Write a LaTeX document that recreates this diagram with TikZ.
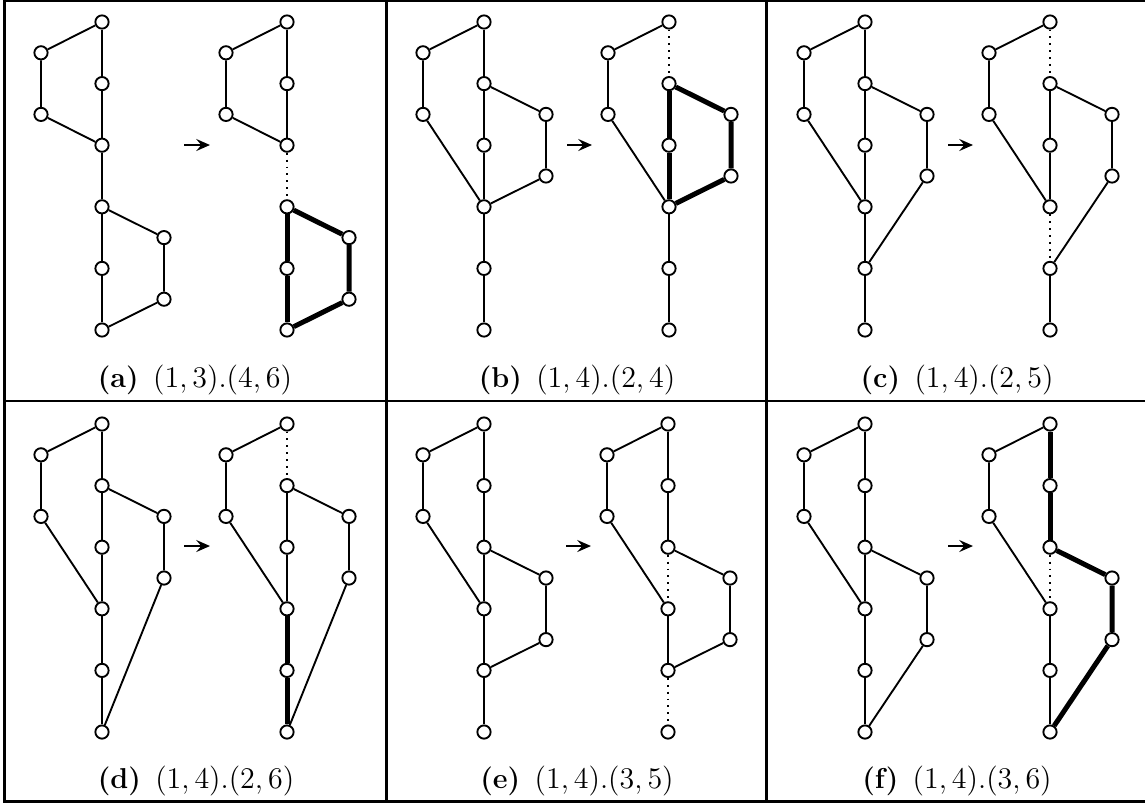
\documentclass[tikz,border=0pt]{standalone}
\usepackage{tikz}
\usepackage{amsmath}
\usetikzlibrary{arrows.meta}

\newcommand{\eargraph}[4]{%
  \node[vtx] (#1s0) at (#2,#3) {};
  \node[vtx] (#1s1) at (#2,{#3+61.6}) {};
  \node[vtx] (#1s2) at (#2,{#3+123.2}) {};
  \node[vtx] (#1s3) at (#2,{#3+184.8}) {};
  \node[vtx] (#1s4) at (#2,{#3+246.4}) {};
  \node[vtx] (#1s5) at (#2,{#3+308}) {};
  \node[vtx] (#1l1) at ({#2-61},{#3+30.8}) {};
  \node[vtx] (#1l2) at ({#2-61},{#3+92.4}) {};
  \node[vtx] (#1r1) at ({#2+62},{#3+61.6*#4+30.8}) {};
  \node[vtx] (#1r2) at ({#2+62},{#3+61.6*#4+92.4}) {};
}

\begin{document}
\begin{tikzpicture}[x=0.4pt, y=-0.4pt,
    vtx/.style={circle, draw, fill=white, inner sep=0pt, minimum size=5.3pt, line width=0.75pt},
    link/.style={line width=0.75pt},
    hotlink/.style={line width=2pt},
    droplink/.style={dotted, line width=0.75pt},
    goes/.style={line width=0.75pt, -{Stealth[length=5.5pt, width=4.8pt, inset=2pt]}},
    caption/.style={anchor=base, font=\fontsize{11.5}{13.5}\selectfont},
    rule/.style={line width=1.2pt}]

\useasboundingbox (0,0) rectangle (1145,803);

\draw[rule] (4,0) -- (1145,0);
\draw[rule] (4,0) -- (4,803);
\draw[line width=0.9pt] (4,401) -- (1145,401);
\draw[rule] (4,801.5) -- (1145,801.5);
\draw[rule] (386,0) -- (386,803);
\draw[rule] (766,0) -- (766,803);

% (a)
\eargraph{a1}{102}{22}{3}
\eargraph{a2}{287}{22}{3}
\draw[link] (a1s0) -- (a1s1) -- (a1s2) -- (a1s3) -- (a1s4) -- (a1s5);
\draw[link] (a1s0) -- (a1l1) -- (a1l2) -- (a1s2);
\draw[link] (a1s3) -- (a1r1) -- (a1r2) -- (a1s5);
\draw[link] (a2s0) -- (a2s1) -- (a2s2);
\draw[link] (a2s0) -- (a2l1) -- (a2l2) -- (a2s2);
\draw[droplink] (a2s2) -- (a2s3);
\draw[hotlink] (a2s3) -- (a2s4) -- (a2s5);
\draw[hotlink] (a2s3) -- (a2r1) -- (a2r2) -- (a2s5);
\coordinate (atail) at (184,145);
\coordinate (ahead) at (210,145);
\draw[goes] (atail) -- (ahead);
\node[caption] (acap) at (195,387) {\textbf{(a)}\enspace$(1,3).(4,6)$};

% (b)
\eargraph{b1}{484}{22}{1}
\eargraph{b2}{669}{22}{1}
\draw[link] (b1s0) -- (b1s1) -- (b1s2) -- (b1s3) -- (b1s4) -- (b1s5);
\draw[link] (b1s0) -- (b1l1) -- (b1l2) -- (b1s3);
\draw[link] (b1s1) -- (b1r1) -- (b1r2) -- (b1s3);
\draw[link] (b2s0) -- (b2l1) -- (b2l2) -- (b2s3);
\draw[link] (b2s3) -- (b2s4) -- (b2s5);
\draw[droplink] (b2s0) -- (b2s1);
\draw[hotlink] (b2s1) -- (b2s2) -- (b2s3);
\draw[hotlink] (b2s1) -- (b2r1) -- (b2r2) -- (b2s3);
\coordinate (btail) at (567,145);
\coordinate (bhead) at (592,145);
\draw[goes] (btail) -- (bhead);
\node[caption] (bcap) at (577,387) {\textbf{(b)}\enspace$(1,4).(2,4)$};

% (c)
\eargraph{c1}{865}{22}{1}
\eargraph{c2}{1050}{22}{1}
\draw[link] (c1s0) -- (c1s1) -- (c1s2) -- (c1s3) -- (c1s4) -- (c1s5);
\draw[link] (c1s0) -- (c1l1) -- (c1l2) -- (c1s3);
\draw[link] (c1s1) -- (c1r1) -- (c1r2) -- (c1s4);
\draw[link] (c2s1) -- (c2s2) -- (c2s3);
\draw[link] (c2s0) -- (c2l1) -- (c2l2) -- (c2s3);
\draw[link] (c2s1) -- (c2r1) -- (c2r2) -- (c2s4);
\draw[link] (c2s4) -- (c2s5);
\draw[droplink] (c2s0) -- (c2s1);
\draw[droplink] (c2s3) -- (c2s4);
\coordinate (ctail) at (948,145);
\coordinate (chead) at (973,145);
\draw[goes] (ctail) -- (chead);
\node[caption] (ccap) at (957,387) {\textbf{(c)}\enspace$(1,4).(2,5)$};

% (d)
\eargraph{d1}{102}{424}{1}
\eargraph{d2}{287}{424}{1}
\draw[link] (d1s0) -- (d1s1) -- (d1s2) -- (d1s3) -- (d1s4) -- (d1s5);
\draw[link] (d1s0) -- (d1l1) -- (d1l2) -- (d1s3);
\draw[link] (d1s1) -- (d1r1) -- (d1r2) -- (d1s5);
\draw[link] (d2s1) -- (d2s2) -- (d2s3);
\draw[link] (d2s0) -- (d2l1) -- (d2l2) -- (d2s3);
\draw[link] (d2s1) -- (d2r1) -- (d2r2) -- (d2s5);
\draw[droplink] (d2s0) -- (d2s1);
\draw[hotlink] (d2s3) -- (d2s4) -- (d2s5);
\coordinate (dtail) at (184,546);
\coordinate (dhead) at (210,546);
\draw[goes] (dtail) -- (dhead);
\node[caption] (dcap) at (196,788) {\textbf{(d)}\enspace$(1,4).(2,6)$};

% (e)
\eargraph{e1}{484}{424}{2}
\eargraph{e2}{668}{424}{2}
\draw[link] (e1s0) -- (e1s1) -- (e1s2) -- (e1s3) -- (e1s4) -- (e1s5);
\draw[link] (e1s0) -- (e1l1) -- (e1l2) -- (e1s3);
\draw[link] (e1s2) -- (e1r1) -- (e1r2) -- (e1s4);
\draw[link] (e2s0) -- (e2s1) -- (e2s2);
\draw[link] (e2s3) -- (e2s4);
\draw[link] (e2s0) -- (e2l1) -- (e2l2) -- (e2s3);
\draw[link] (e2s2) -- (e2r1) -- (e2r2) -- (e2s4);
\draw[droplink] (e2s2) -- (e2s3);
\draw[droplink] (e2s4) -- (e2s5);
\coordinate (etail) at (566,546);
\coordinate (ehead) at (591,546);
\draw[goes] (etail) -- (ehead);
\node[caption] (ecap) at (577,788) {\textbf{(e)}\enspace$(1,4).(3,5)$};

% (f)
\eargraph{f1}{865}{424}{2}
\eargraph{f2}{1050}{424}{2}
\draw[link] (f1s0) -- (f1s1) -- (f1s2) -- (f1s3) -- (f1s4) -- (f1s5);
\draw[link] (f1s0) -- (f1l1) -- (f1l2) -- (f1s3);
\draw[link] (f1s2) -- (f1r1) -- (f1r2) -- (f1s5);
\draw[link] (f2s3) -- (f2s4) -- (f2s5);
\draw[link] (f2s0) -- (f2l1) -- (f2l2) -- (f2s3);
\draw[droplink] (f2s2) -- (f2s3);
\draw[hotlink] (f2s0) -- (f2s1) -- (f2s2);
\draw[hotlink] (f2s2) -- (f2r1) -- (f2r2) -- (f2s5);
\coordinate (ftail) at (948,546);
\coordinate (fhead) at (973,546);
\draw[goes] (ftail) -- (fhead);
\node[caption] (fcap) at (957,788) {\textbf{(f)}\enspace$(1,4).(3,6)$};

\end{tikzpicture}
\end{document}
